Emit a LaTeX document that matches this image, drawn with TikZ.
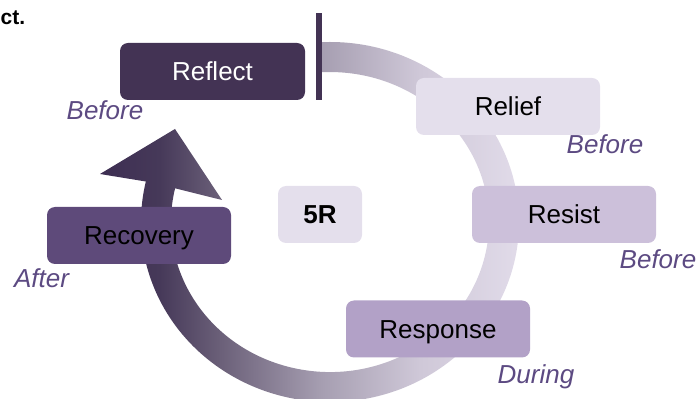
\documentclass[tikz,border=0pt]{standalone}
\usepackage{fontspec}
\setmainfont{Liberation Sans}
\definecolor{plumdark}{HTML}{433354}
\definecolor{recov}{HTML}{5E4A7A}
\definecolor{respc}{HTML}{B2A1C7}
\definecolor{resic}{HTML}{CCC0DA}
\definecolor{relic}{HTML}{E4DFEC}
\definecolor{labc}{HTML}{5C4A82}
\definecolor{sa}{HTML}{3D2E52}
\definecolor{sb}{HTML}{463959}
\definecolor{sc}{HTML}{6A5F78}
\definecolor{sd}{HTML}{A69EB1}
\definecolor{se}{HTML}{CFC8D8}
\definecolor{sf}{HTML}{E2DCEA}
\pgfdeclarehorizontalshading{bandshade}{100bp}{color(0bp)=(sa); color(25bp)=(sa); color(32bp)=(sb); color(39bp)=(sc); color(51bp)=(sd); color(62.6bp)=(se); color(75bp)=(sf); color(100bp)=(sf)}
\begin{document}
\begin{tikzpicture}[x=1pt,y=1pt,
  box/.style={rounded corners=8pt, minimum width=184pt, minimum height=57pt, inner sep=0pt,
    text height=18.6pt, text depth=0pt, font=\fontsize{26}{30}\selectfont},
  lab/.style={font=\fontsize{26}{30}\selectfont\itshape, text=labc, inner sep=0pt,
    text height=18.6pt, text depth=0pt}]
\useasboundingbox (0,0) rectangle (699,399);
% circular arrow band
\begin{scope}
\clip (320.1,356.75) arc[start angle=93, end angle=-193, x radius=189pt, y radius=180pt]
  -- (100,225) -- (175,270) -- (222,199) -- (175.1,210.7)
  arc[start angle=-193, end angle=93, x radius=159pt, y radius=150pt] -- cycle;
\shade[shading=bandshade] (100,0) rectangle (525,399);
\end{scope}
% bar
\fill[plumdark] (316,299) rectangle (321.5,386);
% top text fragment
\node[anchor=base west, inner sep=0pt, font=\fontsize{21}{25}\selectfont\bfseries] (ct) at (0.5,374) {ct.};
% boxes
\node[box, fill=plumdark, text=white, minimum width=185pt] (reflect) at (212.5,327.5) {Reflect};
\node[box, fill=relic] (relief) at (508,292.5) {Relief};
\node[box, fill=relic, minimum width=84pt, font=\fontsize{26}{30}\selectfont\bfseries] (fiver) at (320,184.5) {5R};
\node[box, fill=resic] (resist) at (564,184.5) {Resist};
\node[box, fill=respc] (response) at (438,70) {Response};
\node[box, fill=recov] (recovery) at (139,163.5) {Recovery};
% labels
\node[lab] (b1) at (105,288.5) {Before};
\node[lab] (b2) at (605,254.5) {Before};
\node[lab] (b3) at (658,139.5) {Before};
\node[lab] (during) at (536,25) {During};
\node[lab] (after) at (41.5,121) {After};
\end{tikzpicture}
\end{document}
